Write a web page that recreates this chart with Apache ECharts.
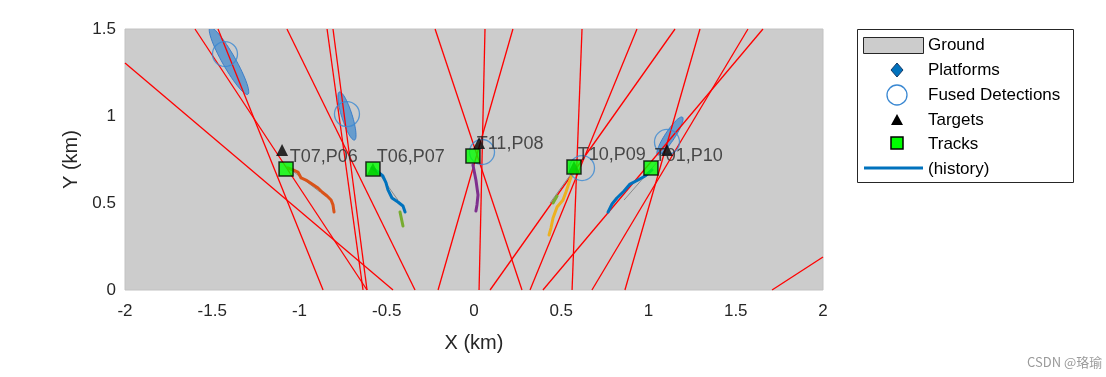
<!DOCTYPE html>
<html><head><meta charset="utf-8">
<script src="https://cdn.jsdelivr.net/npm/echarts@6/dist/echarts.min.js"></script>
<style>html,body{margin:0;padding:0;background:#fff}#c{width:1106px;height:377px}</style>
</head><body><div id="c"></div>
<script>
// ---- data (km) ----
const xTicks = [-2, -1.5, -1, -0.5, 0, 0.5, 1, 1.5, 2];
const yTicks = [0, 0.5, 1, 1.5];
// lines of sight: start / end points
const losStart = [[-2,1.305],[-1.599,1.5],[-1.467,1.5],[-1.072,1.5],[-0.842,1.5],[-0.808,1.5],[-0.223,1.5],[0.063,1.5],[0.223,1.5],[0.619,1.5],[0.934,1.5],[1.152,1.5],[1.295,1.5],[1.570,1.5],[1.656,1.5],[2,0.19]];
const losEnd   = [[-0.464,0],[-0.613,0],[-0.865,0],[-0.338,0],[-0.636,0],[-0.613,0],[0.275,0],[0.029,0],[-0.206,0],[0.562,0],[0.321,0],[0.092,0],[0.865,0],[0.676,0],[0.395,0],[1.708,0]];
const fusedDetections = [[-1.427,1.356],[-0.728,1.011],[0.046,0.793],[0.619,0.701],[1.106,0.851]];
// covariance ellipses: centre x, centre y, semi-major, semi-minor, angle (deg)
const ellipseX = [-1.404, -0.728, 1.123];
const ellipseY = [1.316, 1.000, 0.885];
const ellipseA = [0.22, 0.145, 0.13];
const ellipseB = [0.038, 0.030, 0.028];
const ellipseAngle = [-60.5, -72.6, 56.7];
const targets = [[-1.100,0.805],[-0.579,0.695],[0.029,0.845],[0.573,0.707],[1.106,0.805]];
const tracks = [[-1.077,0.695],[-0.579,0.695],[-0.006,0.770],[0.573,0.707],[1.014,0.701]];
const trackLabels = ['T07,P06','T06,P07','T11,P08','T10,P09','T01,P10'];
const histT07 = [[-1.066,0.701],[-1.037,0.690],[-1.009,0.678],[-0.991,0.644],[-0.963,0.632],[-0.928,0.609],[-0.894,0.586],[-0.871,0.563],[-0.842,0.540],[-0.819,0.517],[-0.808,0.489],[-0.802,0.448]];
const histT06 = [[-0.585,0.701],[-0.550,0.678],[-0.522,0.655],[-0.504,0.615],[-0.493,0.575],[-0.470,0.529],[-0.436,0.506],[-0.407,0.483],[-0.395,0.448]];
const histT06b = [[-0.424,0.448],[-0.407,0.368]];
const histT11 = [[-0.006,0.718],[0.011,0.632],[0.023,0.546],[0.017,0.489],[0.011,0.454]];
const histT10 = [[0.573,0.690],[0.550,0.632],[0.527,0.563],[0.510,0.517],[0.476,0.477],[0.453,0.414],[0.441,0.356],[0.430,0.316]];
const histT10b = [[0.453,0.500],[0.476,0.540]];
const histT01 = [[1.020,0.690],[0.980,0.655],[0.940,0.632],[0.894,0.609],[0.860,0.569],[0.819,0.529],[0.791,0.494],[0.768,0.448]];
const truthP06 = [[-1.077,0.713],[-0.882,0.563]];
const truthP07 = [[-0.567,0.701],[-0.436,0.517]];
const truthP09 = [[0.436,0.500],[0.573,0.690]];
const truthP10 = [[0.860,0.517],[1.060,0.747]];

const FONT = '"Liberation Sans", Arial, Helvetica, sans-serif';
const chart = echarts.init(document.getElementById('c'), null, {renderer:'canvas'});

const series = [];
// ellipses
series.push({
  type:'custom', clip:true, z:2, silent:true,
  data: ellipseX.map((x,i)=>[x, ellipseY[i], ellipseA[i], ellipseB[i], ellipseAngle[i]]),
  renderItem:function(params, api){
    const cx=api.value(0), cy=api.value(1), a=api.value(2), b=api.value(3), ang=api.value(4)*Math.PI/180;
    const pts=[];
    for(let k=0;k<=60;k++){
      const t=2*Math.PI*k/60;
      pts.push(api.coord([cx + a*Math.cos(t)*Math.cos(ang) - b*Math.sin(t)*Math.sin(ang),
                          cy + a*Math.cos(t)*Math.sin(ang) + b*Math.sin(t)*Math.cos(ang)]));
    }
    return {type:'polygon', shape:{points:pts}, style:{fill:'rgba(70,140,205,0.75)', stroke:'rgba(50,120,200,0.9)', lineWidth:1}};
  }
});
// lines of sight
losStart.forEach((s,i)=>{
  series.push({type:'line', z:3, silent:true, symbol:'none', clip:true,
    data:[s, losEnd[i]], lineStyle:{color:'#ff0000', width:1.3}});
});
// truth (thin gray)
[truthP06, truthP07, truthP09, truthP10].forEach(d=>{
  series.push({type:'line', z:4, silent:true, symbol:'none', data:d, lineStyle:{color:'#8a8a8a', width:1}});
});
// histories
const hist = [[histT07,'#D95319'],[histT06,'#0072BD'],[histT06b,'#77AC30'],[histT11,'#7E2F8E'],[histT10,'#EDB120'],[histT10b,'#77AC30'],[histT01,'#0072BD']];
hist.forEach(([d,c])=>{
  series.push({type:'line', z:5, silent:true, symbol:'none', data:d, lineStyle:{color:c, width:3, join:'round', cap:'round'}});
});
// fused detections
series.push({type:'scatter', z:6, silent:true, symbol:'circle', symbolSize:25, data:fusedDetections,
  itemStyle:{color:'rgba(0,0,0,0)', borderColor:'#3a88d2', borderWidth:1.3}});
// targets
series.push({type:'scatter', z:7, silent:true, symbol:'triangle', symbolSize:12, data:targets,
  itemStyle:{color:'#000'}});
// tracks
series.push({type:'scatter', z:8, silent:true, symbol:'rect', symbolSize:14,
  data:tracks.map((p,i)=>({value:p, name:trackLabels[i]})),
  itemStyle:{color:'#00ff00', borderColor:'#000', borderWidth:1.5},
  label:{show:true, position:'right', distance:5, offset:[-9,-12], formatter:'{b}', color:'#262626', fontSize:18, fontFamily:FONT}});

// legend built with graphics
const LX = 857, LY = 29;
const legendText = (t,y)=>({type:'text', style:{text:t, x:928, y:y, fill:'#000', font:'17px '+FONT, textVerticalAlign:'middle'}});
const graphic = [
  {type:'rect', shape:{x:LX+0.5, y:LY+0.5, width:216, height:153}, style:{fill:'#fff', stroke:'#262626', lineWidth:1}},
  {type:'rect', shape:{x:863.5, y:37.5, width:60, height:16}, style:{fill:'#cccccc', stroke:'#262626', lineWidth:1}},
  legendText('Ground',45.5),
  {type:'polygon', shape:{points:[[897,63],[903,70],[897,77],[891,70]]}, style:{fill:'#0072BD', stroke:'#173a66', lineWidth:1}},
  legendText('Platforms',70.5),
  {type:'circle', shape:{cx:897, cy:95, r:10}, style:{fill:'none', stroke:'#3a88d2', lineWidth:1.3}},
  legendText('Fused Detections',95),
  {type:'polygon', shape:{points:[[897,114],[903,125],[891,125]]}, style:{fill:'#000'}},
  legendText('Targets',120),
  {type:'rect', shape:{x:891, y:137, width:12, height:12}, style:{fill:'#00ff00', stroke:'#000', lineWidth:1.5}},
  legendText('Tracks',144),
  {type:'line', shape:{x1:864, y1:168, x2:923, y2:168}, style:{stroke:'#0072BD', lineWidth:3}},
  legendText('(history)',169),
  {type:'text', style:{text:'CSDN @珞瑜·', x:1027, y:362, fill:'#9a9a9a', font:'13px "Noto Sans CJK SC", '+FONT, textVerticalAlign:'middle'}}
];

chart.setOption({
  animation:false,
  backgroundColor:'#ffffff',
  grid:{left:125, top:29, width:698, height:261, show:true, backgroundColor:'#cccccc', borderColor:'#c2c2c2', borderWidth:1, containLabel:false},
  xAxis:{type:'value', min:xTicks[0], max:xTicks[xTicks.length-1], interval:0.5,
    name:'X (km)', nameLocation:'middle', nameGap:43,
    nameTextStyle:{fontSize:20, color:'#262626', fontFamily:FONT},
    axisLine:{show:false}, axisTick:{show:false}, splitLine:{show:false},
    axisLabel:{margin:13, fontSize:17, color:'#262626', fontFamily:FONT, formatter:v=>String(v)}},
  yAxis:{type:'value', min:yTicks[0], max:yTicks[yTicks.length-1], interval:0.5,
    name:'Y (km)', nameLocation:'middle', nameGap:43,
    nameTextStyle:{fontSize:20, color:'#262626', fontFamily:FONT},
    axisLine:{show:false}, axisTick:{show:false}, splitLine:{show:false},
    axisLabel:{margin:9, fontSize:17, color:'#262626', fontFamily:FONT, formatter:v=>String(v)}},
  series:series,
  graphic:graphic
});
</script></body></html>
